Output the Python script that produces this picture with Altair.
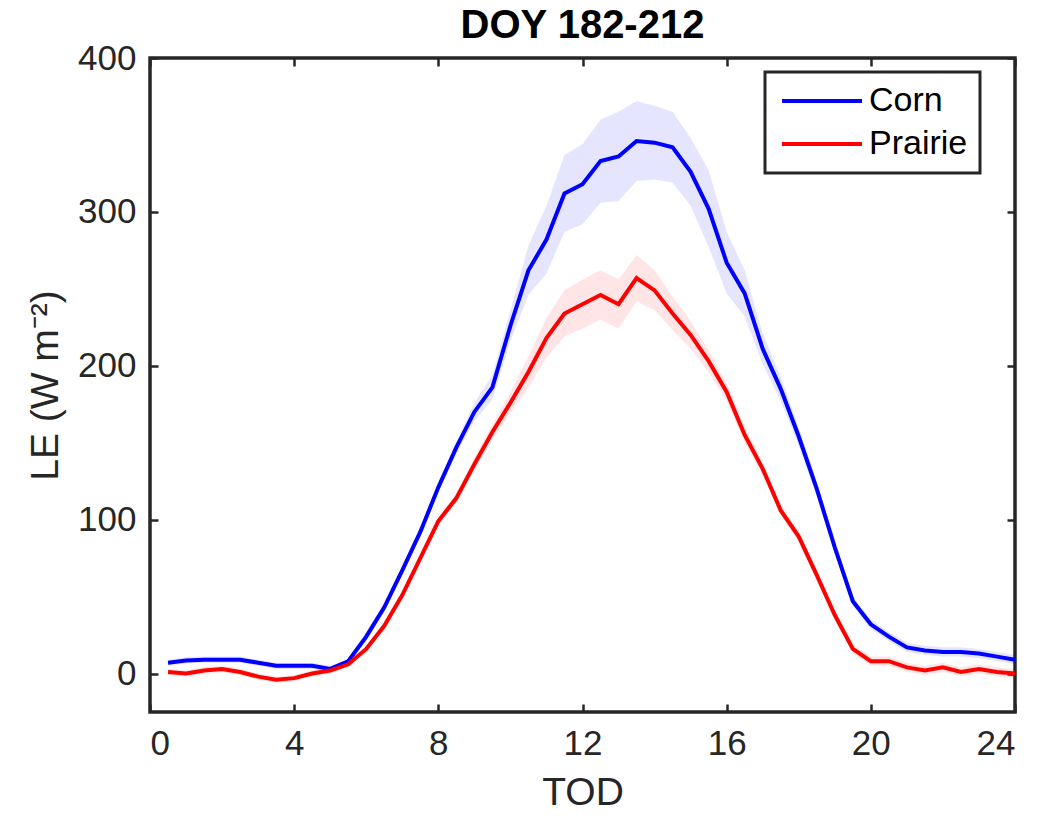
import altair as alt
import pandas as pd

tod = [0.5, 1.0, 1.5, 2.0, 2.5, 3.0, 3.5, 4.0, 4.5, 5.0, 5.5, 6.0,
       6.5, 7.0, 7.5, 8.0, 8.5, 9.0, 9.5, 10.0, 10.5, 11.0, 11.5, 12.0,
       12.5, 13.0, 13.5, 14.0, 14.5, 15.0, 15.5, 16.0, 16.5, 17.0, 17.5, 18.0,
       18.5, 19.0, 19.5, 20.0, 20.5, 21.0, 21.5, 22.0, 22.5, 23.0, 23.5, 24.0]

corn = [7, 8.5, 9, 9, 9, 7, 5, 5, 5, 3, 8, 24,
        43, 67, 92, 121, 147, 170, 186, 226, 262, 282, 312, 318,
        333, 336, 346, 345, 342, 326, 302, 267, 247, 211, 185, 154,
        120, 82, 47, 32, 24, 17, 15, 14, 14, 13, 11, 9]
corn_err = [2, 2, 2, 2, 2, 2, 2, 2, 2, 2, 2, 3,
            3, 3, 3, 3, 4, 6, 8, 10, 16, 22, 25, 26,
            27, 29, 26, 24, 23, 22, 25, 20, 15, 10, 8, 6,
            5, 4, 3, 3, 3, 3, 3, 3, 3, 3, 3, 3]

prairie = [1, 0, 2, 3, 1, -2, -4, -3, 0, 2, 6, 16,
           31, 51, 75, 99, 114, 136, 157, 176, 196, 218, 234, 240,
           246, 240, 257, 249, 234, 220, 203, 183, 155, 133, 106, 89,
           64, 38, 16, 8, 8, 4, 2, 4, 1, 3, 1, 0]
prairie_err = [2, 2, 2, 2, 2, 2, 2, 2, 2, 2, 2, 2,
               2, 2, 2, 2, 3, 4, 5, 7, 10, 13, 15, 16,
               16, 16, 15, 13, 11, 9, 7, 6, 5, 4, 3, 3,
               3, 3, 3, 3, 3, 3, 3, 3, 3, 3, 3, 3]

series_names = ["Corn", "Prairie"]
series_colors = ["#0000FF", "#FF0000"]

rows = []
for name, vals, errs in [("Corn", corn, corn_err), ("Prairie", prairie, prairie_err)]:
    for t, v, e in zip(tod, vals, errs):
        rows.append({"TOD": t, "series": name, "band": name + " band",
                     "LE": v, "lo": v - e, "hi": v + e})
df = pd.DataFrame(rows)

FONT = "Liberation Sans"
TXT = "#262626"
xs = alt.Scale(domain=[0, 24], nice=False, zero=False)
ys = alt.Scale(domain=[-25, 400], nice=False, zero=False)
cscale = alt.Scale(domain=series_names, range=series_colors)
bscale = alt.Scale(domain=[n + " band" for n in series_names], range=series_colors)
xticks = [0, 4, 8, 12, 16, 20, 24]
yticks = [0, 100, 200, 300, 400]

base = alt.Chart(df)

bands = base.mark_area(fillOpacity=0.1, interpolate="linear").encode(
    x=alt.X("TOD:Q", scale=xs, axis=None),
    y=alt.Y("lo:Q", scale=ys, axis=None),
    y2="hi:Q",
    fill=alt.Fill("band:N", scale=bscale, legend=None),
    detail="band:N",
)

lines = base.mark_line(strokeWidth=4).encode(
    x=alt.X("TOD:Q", scale=xs, axis=alt.Axis(
        values=xticks, title="TOD", offset=-8, tickSize=8, tickWidth=2.5,
        tickColor=TXT, domain=False, grid=False, labelPadding=14,
        labelFontSize=35, labelColor=TXT, labelFont=FONT,
        titleFontSize=39, titleColor=TXT, titleFont=FONT, titleFontWeight="normal",
        titlePadding=12)),
    y=alt.Y("LE:Q", scale=ys, axis=alt.Axis(
        values=yticks, title="LE (W m⁻²)", offset=-8, tickSize=8, tickWidth=2.5,
        tickColor=TXT, domain=False, grid=False, labelPadding=14,
        labelFontSize=35, labelColor=TXT, labelFont=FONT,
        titleFontSize=39, titleColor=TXT, titleFont=FONT, titleFontWeight="normal",
        titlePadding=12)),
    color=alt.Color("series:N", scale=cscale, legend=alt.Legend(
        title=None, orient="none", legendX=615, legendY=14,
        symbolType="M-1.2,0H6.8", symbolSize=400, symbolStrokeWidth=4,
        labelFontSize=34, labelFont=FONT, labelColor="#000000", labelOffset=58,
        padding=12, rowPadding=9, strokeColor=TXT, fillColor="#FFFFFF")),
)

frame = base.mark_line(opacity=0).encode(
    x=alt.X("TOD:Q", scale=xs, axis=alt.Axis(
        orient="top", values=xticks, title=None, labels=False, offset=-8,
        tickSize=8, tickWidth=2.5, tickColor=TXT, domain=False, grid=False)),
    y=alt.Y("LE:Q", scale=ys, axis=alt.Axis(
        orient="right", values=yticks, title=None, labels=False, offset=-8,
        tickSize=8, tickWidth=2.5, tickColor=TXT, domain=False, grid=False)),
    detail="series:N",
)

chart = alt.layer(bands, lines, frame).resolve_axis(
    x="independent", y="independent"
).properties(
    width=865, height=654,
    title=alt.TitleParams("DOY 182-212", fontSize=40, fontWeight="bold",
                          font=FONT, color="#000000", offset=-5, anchor="middle"),
    autosize=alt.AutoSizeParams(type="none"),
    padding={"left": 142, "top": 50, "right": 19, "bottom": 110},
    background="#FFFFFF",
).configure_view(
    stroke=TXT, strokeWidth=3.5
).configure_legend(
    strokeWidth=3
)

chart.save("out.html", embed_options={"renderer": "svg", "actions": False})
